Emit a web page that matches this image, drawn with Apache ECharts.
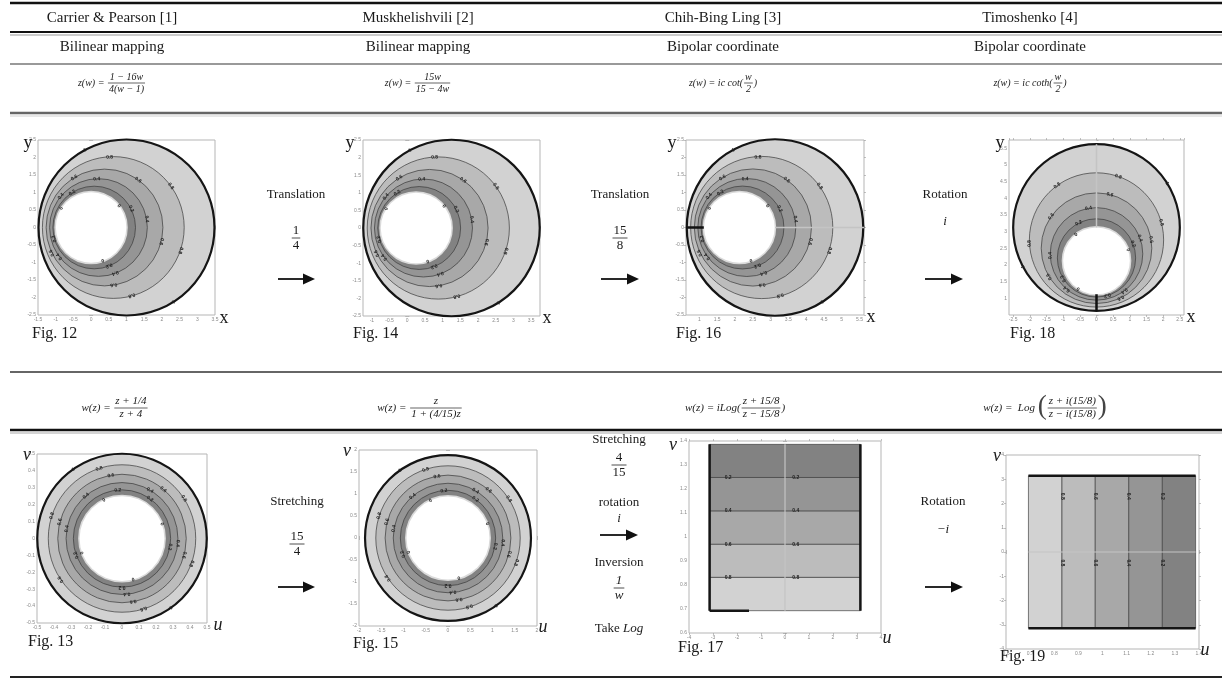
<!DOCTYPE html>
<html><head><meta charset="utf-8">
<script src="https://cdn.jsdelivr.net/npm/echarts@6/dist/echarts.min.js"></script>
<style>html,body{margin:0;padding:0;background:#fff}#c{width:1222px;height:687px}</style>
</head><body><div id="c"></div>
<script>
// ---------------- DATA ----------------
const columnTitles = ['Carrier & Pearson [1]', 'Muskhelishvili [2]', 'Chih-Bing Ling [3]', 'Timoshenko [4]'];
const methodNames = ['Bilinear mapping', 'Bilinear mapping', 'Bipolar coordinate', 'Bipolar coordinate'];
const figureNames = ['Fig. 12', 'Fig. 14', 'Fig. 16', 'Fig. 18', 'Fig. 13', 'Fig. 15', 'Fig. 17', 'Fig. 19'];
const contourLevels = [1, 0.8, 0.6, 0.4, 0.2, 0];
// eccentric circles (outer boundary -> inner hole)
const fig12CenterX = [1.0, 0.627, 0.379, 0.208, 0.087, 0.0];
const fig12CenterY = [0, 0, 0, 0, 0, 0];
const fig12Radius = [2.5, 2.014, 1.659, 1.388, 1.174, 1.0];
const fig14CenterX = [1.25, 0.877, 0.629, 0.458, 0.337, 0.25];
const fig14CenterY = [0, 0, 0, 0, 0, 0];
const fig14Radius = [2.5, 2.014, 1.659, 1.388, 1.174, 1.0];
const fig16CenterX = [3.125, 2.752, 2.504, 2.333, 2.212, 2.125];
const fig16CenterY = [0, 0, 0, 0, 0, 0];
const fig16Radius = [2.5, 2.014, 1.659, 1.388, 1.174, 1.0];
const fig18CenterX = [0, 0, 0, 0, 0, 0];
const fig18CenterY = [3.125, 2.752, 2.504, 2.333, 2.212, 2.125];
const fig18Radius = [2.5, 2.014, 1.659, 1.388, 1.174, 1.0];
// concentric circles
const fig13CenterX = [0, 0, 0, 0, 0, 0];
const fig13CenterY = [0, 0, 0, 0, 0, 0];
const fig13Radius = [0.5, 0.435, 0.379, 0.330, 0.287, 0.25];
const fig15CenterX = [0, 0, 0, 0, 0, 0];
const fig15CenterY = [0, 0, 0, 0, 0, 0];
const fig15Radius = [1.875, 1.632, 1.421, 1.237, 1.077, 0.9375];
// strips (Log plane): contour positions from outer (1) to inner (0)
const stripEdges = [0.693, 0.832, 0.970, 1.109, 1.248, 1.386];
const stripSpan = [-3.1416, 3.1416];
// branch cuts
const fig16BlackCut = [[0.625, 0], [1.125, 0]];
const fig16GrayCut = [[3.125, 0], [5.625, 0]];
const fig18BlackCut = [[0, 0.625], [0, 1.125]];
const fig18GrayCut = [[0, 3.125], [0, 5.625]];
const fig17GrayLine = [[0, 0.693], [0, 1.386]];
const fig17BlackEdges = [[[-3.1416, 0.693], [-3.1416, 1.386]], [[3.1416, 0.693], [3.1416, 1.386]], [[-3.1416, 0.693], [-1.5, 0.693]]];
const fig19GrayLine = [[0.693, 0], [1.386, 0]];
const fig19BlackEdges = [[[0.693, 3.1416], [1.386, 3.1416]], [[0.693, -3.1416], [1.386, -3.1416]]];
// contour label placements [contour index, angle in degrees]
const eccentricLabels = [[0,118],[0,-58],[1,93],[1,36],[1,-19],[1,-75],[2,121],[2,55],[2,-14],[2,-81],[2,-154],[3,92],[3,10],[3,-70],[3,140],[3,-143],[4,122],[4,27],[4,-69],[4,-164],[5,147],[5,38],[5,-71]];
const rotatedLabels = [[0,208],[0,32],[1,183],[1,126],[1,71],[1,15],[2,211],[2,145],[2,76],[2,9],[2,-64],[3,182],[3,100],[3,20],[3,230],[3,-53],[4,212],[4,117],[4,21],[4,-74],[5,237],[5,128],[5,19]];
const concentricLabels = [[0,125],[0,-55],[1,108],[1,33],[1,-20],[1,-73],[1,162],[1,-146],[2,100],[2,50],[2,-15],[2,-80],[2,165],[3,130],[3,60],[3,-5],[3,-85],[3,170],[4,95],[4,55],[4,-10],[4,-90],[4,-160],[5,115],[5,20],[5,-75],[5,-160]];
const fig17LabelU = [-2.37, 0.45];
const fig19LabelV = [2.3, -0.45];
// axis ranges [min, max, interval]
const axisX = [[-1.5,3.5,0.5],[-1.25,3.75,null],[0.625,5.625,null],[-2.625,2.625,null],[-0.5,0.5,0.1],[-2,2,0.5],[-4,4,1],[0.6,1.4,0.1]];
const axisY = [[-2.5,2.5,0.5],[-2.5,2.5,0.5],[-2.5,2.5,0.5],[0.5,5.75,null],[-0.5,0.5,0.1],[-2,2,0.5],[0.6,1.4,0.1],[-4,4,1]];

// ---------------- STYLE / LAYOUT ----------------
const bandColors = ['#d2d2d2', '#bcbcbc', '#a8a8a8', '#959595', '#828282'];
const SERIF = '"Liberation Serif", "DejaVu Serif", serif';
const gridRects = [
  [38, 140, 177, 175], [363, 140, 177, 176], [686, 140, 178, 175], [1009, 140, 175, 175],
  [37, 454, 170, 169], [359, 450, 178, 176], [689, 441, 192, 192], [1006, 455, 193, 194]
];
const axisNames = [['x','y',false],['x','y',false],['x','y',false],['x','y',false],['u','v',true],['u','v',true],['u','v',true],['u','v',true]];
const yNamePos = [[28,143],[350,143],[672,143],[1000,143],[27,455],[347,451],[673,445],[997,456]];
const xNamePos = [[224,318],[547,318],[871,317],[1191,317],[218,625],[543,627],[887,638],[1205,650]];
const figNamePos = [[32,334],[353,334],[676,334],[1010,334],[28,642],[353,644],[678,648],[1000,657]];

// ---------------- GRAPHIC HELPERS ----------------
const G = [];
const mctx = document.createElement('canvas').getContext('2d');
function tw(t, font) { mctx.font = font; return mctx.measureText(t).width; }
function T(x, y, text, size, o) {
  o = o || {};
  const font = (o.italic ? 'italic ' : '') + size + 'px ' + SERIF;
  const align = o.align || 'center';
  const va = o.va || 'middle';
  G.push({ type: 'text', x, y, z: 100, style: { text, font, fill: o.color || '#1a1a1a', align, verticalAlign: va, textAlign: align, textVerticalAlign: va } });
}
function L(x1, y1, x2, y2, w, c) { G.push({ type: 'line', z: 90, shape: { x1, y1, x2, y2 }, style: { stroke: c, lineWidth: w } }); }
function arrow(x1, x2, y) {
  L(x1, y, x2 - 9, y, 1.8, '#111');
  G.push({ type: 'polygon', z: 90, shape: { points: [[x2 - 12, y - 5.5], [x2, y], [x2 - 12, y + 5.5]] }, style: { fill: '#111' } });
}
function frac(cx, yBar, num, den, size, o) {
  o = o || {};
  const font = (o.italic ? 'italic ' : '') + size + 'px ' + SERIF;
  const w = Math.max(tw(num, font), tw(den, font)) + 2;
  T(cx, yBar - 1, num, size, { italic: o.italic, va: 'bottom' });
  L(cx - w / 2, yBar, cx + w / 2, yBar, 0.8, '#222');
  T(cx, yBar + 1, den, size, { italic: o.italic, va: 'top' });
}
function formula(cx, cy, parts, fs) {
  const font = 'italic ' + fs + 'px ' + SERIF;
  const pf = p => (p.upright ? '' : 'italic ') + (p.size || fs) + 'px ' + SERIF;
  const widths = parts.map(p => p.n !== undefined ? Math.max(tw(p.n, font), tw(p.d, font)) + 4 : tw(p.t, pf(p)));
  const total = widths.reduce((a, b) => a + b, 0);
  let x = cx - total / 2;
  parts.forEach((p, i) => {
    const w = widths[i];
    if (p.n !== undefined) {
      T(x + w / 2, cy - 1, p.n, fs, { italic: true, va: 'bottom' });
      L(x + 1, cy, x + w - 1, cy, 0.7, '#222');
      T(x + w / 2, cy + 1, p.d, fs, { italic: true, va: 'top' });
    } else {
      T(x, cy + (p.dy || 0), p.t, p.size || fs, { italic: !p.upright, align: 'left', color: p.color || '#222' });
    }
    x += w;
  });
}

// ---------------- TABLE ----------------
const colCenters = [112, 418, 723, 1030];
L(10, 3, 1222, 3, 2.5, '#111');
L(10, 32, 1222, 32, 2, '#111'); L(10, 35, 1222, 35, 1, '#999');
L(10, 64, 1222, 64, 1.5, '#777');
L(10, 113, 1222, 113, 2.5, '#666'); L(10, 116, 1222, 116, 1, '#d0d0d0');
L(10, 372, 1222, 372, 2, '#666');
L(10, 430, 1222, 430, 2.5, '#111'); L(10, 433, 1222, 433, 1, '#aaa');
L(10, 677, 1222, 677, 2, '#222');
columnTitles.forEach((t, i) => T(colCenters[i], 18, t, 15));
methodNames.forEach((t, i) => T(colCenters[i], 47, t, 15));

formula(112, 83, [{ t: 'z(w) = ' }, { n: '1 − 16w', d: '4(w − 1)' }], 10);
formula(418, 83, [{ t: 'z(w) = ' }, { n: '15w', d: '15 − 4w' }], 10);
formula(723, 83, [{ t: 'z(w) = ic cot(' }, { n: 'w', d: '2' }, { t: ')' }], 10);
formula(1030, 83, [{ t: 'z(w) = ic coth(' }, { n: 'w', d: '2' }, { t: ')' }], 10);
formula(115, 408, [{ t: 'w(z) = ' }, { n: 'z + 1/4', d: 'z + 4' }], 11);
formula(420, 408, [{ t: 'w(z) = ' }, { n: 'z', d: '1 + (4/15)z' }], 11);
formula(735, 408, [{ t: 'w(z) = iLog(' }, { n: 'z + 15/8', d: 'z − 15/8' }, { t: ')' }], 11);
formula(1045, 408, [{ t: 'w(z) =  Log ' }, { t: '(', size: 27, dy: -1, upright: true, color: '#444' }, { n: 'z + i(15/8)', d: 'z − i(15/8)' }, { t: ')', size: 27, dy: -1, upright: true, color: '#444' }], 11);

// transition annotations
T(296, 195, 'Translation', 13); frac(296, 238, '1', '4', 13); arrow(278, 315, 279);
T(620, 195, 'Translation', 13); frac(620, 238, '15', '8', 13); arrow(601, 639, 279);
T(945, 195, 'Rotation', 13); T(945, 222, 'i', 13, { italic: true }); arrow(925, 963, 279);
T(297, 502, 'Stretching', 13); frac(297, 544, '15', '4', 13); arrow(278, 315, 587);
T(619, 440, 'Stretching', 13); frac(619, 465, '4', '15', 13);
T(619, 503, 'rotation', 13); T(619, 519, 'i', 13, { italic: true }); arrow(600, 638, 535);
T(619, 563, 'Inversion', 13); frac(619, 588, '1', 'w', 13, { italic: true });
G.push({ type: 'text', x: 619, y: 629, z: 100, style: { text: '{a|Take }{b|Log}', rich: { a: { font: '13px ' + SERIF, fill: '#1a1a1a' }, b: { font: 'italic 13px ' + SERIF, fill: '#1a1a1a' } }, align: 'center', verticalAlign: 'middle', textAlign: 'center', textVerticalAlign: 'middle' } });
T(943, 502, 'Rotation', 13); T(943, 530, '−i', 13, { italic: true }); arrow(925, 963, 587);

// axis names and figure captions
axisNames.forEach((a, k) => {
  T(yNamePos[k][0], yNamePos[k][1], a[1], 18, { italic: a[2] });
  T(xNamePos[k][0], xNamePos[k][1], a[0], 18, { italic: a[2] });
  T(figNamePos[k][0], figNamePos[k][1], figureNames[k], 16, { align: 'left' });
});

// ---------------- AXES ----------------
const grids = [], xAxes = [], yAxes = [];
function axisCommon(r, showLabel, pos) {
  const o = {
    type: 'value', position: pos, min: r[0], max: r[1], scale: true,
    axisLine: { show: false },
    axisTick: { show: true, length: 2, lineStyle: { color: '#999', width: 0.6 } },
    axisLabel: { show: showLabel, fontSize: 5, color: '#8a8a8a', margin: 2, showMinLabel: r[2] != null, showMaxLabel: r[2] != null },
    splitLine: { show: false }
  };
  if (r[2] != null) o.interval = r[2]; else o.splitNumber = 10;
  return o;
}
gridRects.forEach((g, k) => {
  grids.push({ left: g[0], top: g[1], width: g[2], height: g[3], show: true, borderColor: '#b5b5b5', borderWidth: 1 });
  xAxes.push(Object.assign({ gridIndex: k }, axisCommon(axisX[k], true, 'bottom')));
  xAxes.push(Object.assign({ gridIndex: k }, axisCommon(axisX[k], false, 'top')));
  yAxes.push(Object.assign({ gridIndex: k }, axisCommon(axisY[k], true, 'left')));
  yAxes.push(Object.assign({ gridIndex: k }, axisCommon(axisY[k], false, 'right')));
});

// ---------------- SERIES ----------------
const series = [];
function circleFig(k, cxA, cyA, rA, labels) {
  series.push({
    type: 'custom', xAxisIndex: 2 * k, yAxisIndex: 2 * k, silent: true,
    data: rA.map((r, i) => [cxA[i], cyA[i], r, i]),
    renderItem(params, api) {
      const i = api.value(3);
      const c = api.coord([api.value(0), api.value(1)]);
      const s = api.size([api.value(2), api.value(2)]);
      const rp = (s[0] + s[1]) / 2;
      const last = i === rA.length - 1;
      return {
        type: 'circle', z2: i, shape: { cx: c[0], cy: c[1], r: rp },
        style: {
          fill: last ? '#ffffff' : bandColors[i],
          stroke: i === 0 ? '#151515' : (last ? 'rgba(255,255,255,0.7)' : '#3a3a3a'),
          lineWidth: i === 0 ? 2.2 : (last ? 3 : 0.7)
        }
      };
    }
  });
  series.push({
    type: 'custom', xAxisIndex: 2 * k, yAxisIndex: 2 * k, silent: true, z: 4,
    data: labels,
    renderItem(params, api) {
      const i = api.value(0), a = api.value(1) * Math.PI / 180;
      const p = api.coord([cxA[i] + rA[i] * Math.cos(a), cyA[i] + rA[i] * Math.sin(a)]);
      return {
        type: 'text', x: p[0], y: p[1], rotation: a - Math.PI / 2,
        style: { text: String(contourLevels[i]), font: 'bold 5px sans-serif', fill: '#222', align: 'center', verticalAlign: 'middle' }
      };
    }
  });
}
function lineSeries(k, pts, color, width) {
  series.push({ type: 'line', xAxisIndex: 2 * k, yAxisIndex: 2 * k, z: 5, silent: true, symbol: 'none', data: pts, lineStyle: { color, width }, animation: false });
}
function stripFig(k, vertical, labelPos) {
  const data = [];
  for (let i = 0; i < stripEdges.length - 1; i++) data.push([stripEdges[i], stripEdges[i + 1], i]);
  series.push({
    type: 'custom', xAxisIndex: 2 * k, yAxisIndex: 2 * k, silent: true,
    data,
    renderItem(params, api) {
      const a = api.value(0), b = api.value(1), i = api.value(2);
      let p1, p2;
      if (!vertical) { p1 = api.coord([stripSpan[0], b]); p2 = api.coord([stripSpan[1], a]); }
      else { p1 = api.coord([a, stripSpan[1]]); p2 = api.coord([b, stripSpan[0]]); }
      return { type: 'rect', z2: i, shape: { x: p1[0], y: p1[1], width: p2[0] - p1[0], height: p2[1] - p1[1] }, style: { fill: bandColors[i], stroke: '#444', lineWidth: 0.7 } };
    }
  });
  const lab = [];
  for (let i = 1; i <= 4; i++) labelPos.forEach(q => lab.push(vertical ? [stripEdges[i], q, i] : [q, stripEdges[i], i]));
  series.push({
    type: 'custom', xAxisIndex: 2 * k, yAxisIndex: 2 * k, silent: true, z: 6,
    data: lab,
    renderItem(params, api) {
      const p = api.coord([api.value(0), api.value(1)]);
      return { type: 'text', x: p[0], y: p[1], rotation: vertical ? -Math.PI / 2 : 0, style: { text: String(contourLevels[api.value(2)]), font: 'bold 5px sans-serif', fill: '#222', align: 'center', verticalAlign: 'middle' } };
    }
  });
}

circleFig(0, fig12CenterX, fig12CenterY, fig12Radius, eccentricLabels);
circleFig(1, fig14CenterX, fig14CenterY, fig14Radius, eccentricLabels);
circleFig(2, fig16CenterX, fig16CenterY, fig16Radius, eccentricLabels);
lineSeries(2, fig16GrayCut, '#c4c4c4', 1.5);
lineSeries(2, fig16BlackCut, '#111', 2.5);
circleFig(3, fig18CenterX, fig18CenterY, fig18Radius, rotatedLabels);
lineSeries(3, fig18GrayCut, '#c4c4c4', 1.5);
lineSeries(3, fig18BlackCut, '#111', 2.5);
circleFig(4, fig13CenterX, fig13CenterY, fig13Radius, concentricLabels);
circleFig(5, fig15CenterX, fig15CenterY, fig15Radius, concentricLabels);
stripFig(6, false, fig17LabelU);
lineSeries(6, fig17GrayLine, '#c4c4c4', 1.2);
fig17BlackEdges.forEach(e => lineSeries(6, e, '#151515', 2.5));
stripFig(7, true, fig19LabelV);
lineSeries(7, fig19GrayLine, '#c4c4c4', 1.2);
fig19BlackEdges.forEach(e => lineSeries(7, e, '#151515', 2.5));

const chart = echarts.init(document.getElementById('c'), null, { renderer: 'canvas' });
chart.setOption({
  animation: false,
  backgroundColor: '#ffffff',
  grid: grids, xAxis: xAxes, yAxis: yAxes,
  series,
  graphic: { elements: G }
});
</script></body></html>
